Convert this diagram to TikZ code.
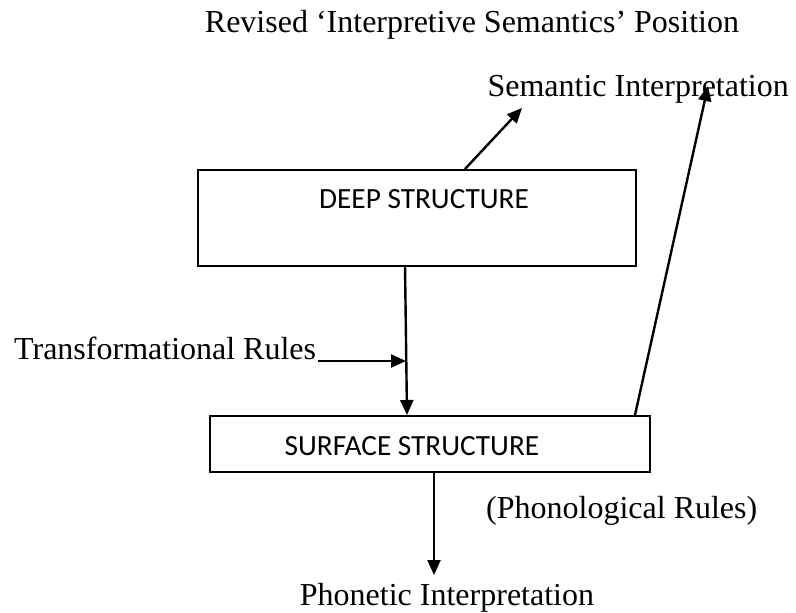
\documentclass[tikz,border=0pt]{standalone}
\usepackage{fontspec}
\setmainfont{Liberation Serif}
\newfontfamily\boxfont{Carlito}
\usetikzlibrary{arrows.meta}

\begin{document}
\begin{tikzpicture}[x=1pt,y=-1pt,
  txt/.style={font=\fontsize{32}{36}\selectfont, inner sep=0pt},
  boxtxt/.style={font=\boxfont\fontsize{29.3}{34}\selectfont, inner sep=0pt},
  stagebox/.style={draw, line width=2pt, inner sep=0pt},
  link/.style={line width=2.4pt, -{Triangle[length=15pt,width=13pt]}}]
\useasboundingbox (0,0) rectangle (796,613);

% captions
\node[txt, anchor=base] (title) at (472,32) {Revised `Interpretive Semantics' Position};
\node[txt, anchor=base east] (sem) at (789,96) {Semantic Interpretation};
\node[txt, anchor=base west] (trans) at (14,359) {Transformational Rules};
\node[txt, anchor=base west] (phon) at (486,518) {(Phonological Rules)};
\node[txt, anchor=base] (phonet) at (447,605) {Phonetic Interpretation};

% the two structure boxes, captions set near their top edge
\node[stagebox, minimum width=438pt, minimum height=96pt, anchor=north west] (deep) at (197,169) {};
\node[boxtxt, anchor=base] (deeptxt) at ([xshift=7pt,yshift=-39pt]deep.north) {DEEP STRUCTURE};
\node[stagebox, minimum width=440pt, minimum height=56pt, anchor=north west] (surf) at (209,415) {};
\node[boxtxt, anchor=base] (surftxt) at ([xshift=-18pt,yshift=-40pt]surf.north) {SURFACE STRUCTURE};

% free ends of the connectors
\coordinate (deepout) at (465,169);
\coordinate (semtipA) at (522,108);
\coordinate (surfout) at (635,415);
\coordinate (semtipB) at (708,86);
\coordinate (deepbot) at (405,265);
\coordinate (surftop) at (407,415);
\coordinate (transout) at (318,361);
\coordinate (joinpt) at (406,361);
\coordinate (surfbot) at (434,471);
\coordinate (phontip) at (434,575);

\draw[link] (deepout) -- (semtipA);
\draw[link] (surfout) -- (semtipB);
\draw[link] (deepbot) -- (surftop);
\draw[link] (transout) -- (joinpt);
\draw[link] (surfbot) -- (phontip);
\end{tikzpicture}
\end{document}
